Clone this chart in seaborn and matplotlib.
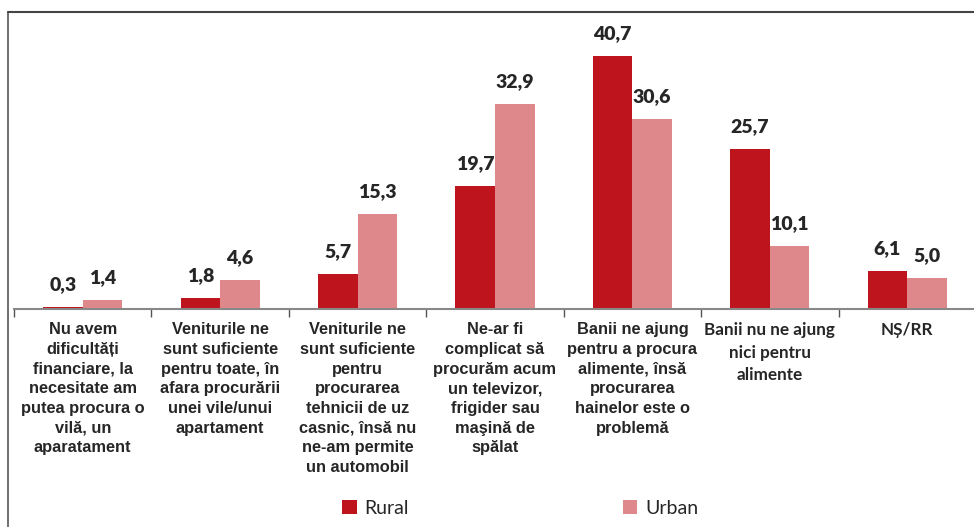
import matplotlib
matplotlib.use("Agg")
import matplotlib.pyplot as plt
import seaborn as sns
import pandas as pd
from matplotlib.lines import Line2D
from matplotlib.patches import Patch

categories = [
    "Nu avem\ndificultăți\nfinanciare, la\nnecesitate am\nputea procura o\nvilă, un\naparatament",
    "Veniturile ne\nsunt suficiente\npentru toate, în\nafara procurării\nunei vile/unui\napartament",
    "Veniturile ne\nsunt suficiente\npentru\nprocurarea\ntehnicii de uz\ncasnic, însă nu\nne-am permite\nun automobil",
    "Ne-ar fi\ncomplicat să\nprocurăm acum\nun televizor,\nfrigider sau\nmaşină de\nspălat",
    "Banii ne ajung\npentru a procura\nalimente, însă\nprocurarea\nhainelor este o\nproblemă",
    "Banii nu ne ajung\nnici pentru\nalimente",
    "NȘ/RR",
]
rural = [0.3, 1.8, 5.7, 19.7, 40.7, 25.7, 6.1]
urban = [1.4, 4.6, 15.3, 32.9, 30.6, 10.1, 5.0]
series = ["Rural", "Urban"]
colors = {"Rural": "#BE141E", "Urban": "#DE888B"}

df = pd.DataFrame({
    "cat": list(range(len(categories))) * 2,
    "val": rural + urban,
    "zona": ["Rural"] * len(rural) + ["Urban"] * len(urban),
})

sns.set_style("white")
fig = plt.figure(figsize=(9.74, 5.27), dpi=100)
ax = fig.add_axes([14 / 974, 1 - 309 / 527, 960 / 974, 297 / 527])

sns.barplot(data=df, x="cat", y="val", hue="zona", palette=colors,
            width=0.575, gap=0, ax=ax, legend=False, saturation=1,
            linewidth=0, edgecolor="none")

for cont in ax.containers:
    ax.bar_label(cont, labels=[f"{v:.1f}".replace(".", ",") for v in cont.datavalues],
                 padding=10, fontsize=14, fontweight="heavy", color="#262626",
                 family="Lato")

ax.set_xlim(-0.5, 6.5 - 2 / 137.5)
ax.set_ylim(0, 297 / 6.22)
ax.set_xlabel("")
ax.set_ylabel("")
ax.set_yticks([])
ax.set_xticks([i - 0.5 for i in range(7)])
ax.set_xticklabels([])
ax.tick_params(axis="x", direction="out", length=6, width=1, color="#555555", bottom=True)
for s in ["top", "right", "left"]:
    ax.spines[s].set_visible(False)
ax.spines["bottom"].set_color("#888888")
ax.spines["bottom"].set_linewidth(1.5)

for i, lab in enumerate(categories):
    if i >= 5:
        ax.text(i, -0.045, lab, transform=ax.get_xaxis_transform(), ha="center", va="top",
                fontsize=12.3, fontweight="bold", family="Lato", color="#262626",
                linespacing=1.5)
    else:
        ax.text(i, -0.045, lab, transform=ax.get_xaxis_transform(), ha="center", va="top",
                fontsize=11.8, fontweight="bold", family="Liberation Sans", color="#262626",
                linespacing=1.39)

# outer frame
fig.add_artist(Line2D([8 / 974, 8 / 974], [0, 1 - 12 / 527], transform=fig.transFigure,
                      color="#555555", lw=1.2))
fig.add_artist(Line2D([8 / 974, 1], [1 - 12 / 527, 1 - 12 / 527], transform=fig.transFigure,
                      color="#444444", lw=1.5))

handles = [Patch(facecolor=colors[s], edgecolor="none") for s in series]
fig.legend(handles, series, loc="center", bbox_to_anchor=(0.534, 0.036), ncol=2,
           frameon=False, handlelength=0.75, handleheight=0.75, handletextpad=0.4,
           columnspacing=11.0, prop={"family": "Lato", "size": 14})

fig.savefig("out.png", dpi=100)
